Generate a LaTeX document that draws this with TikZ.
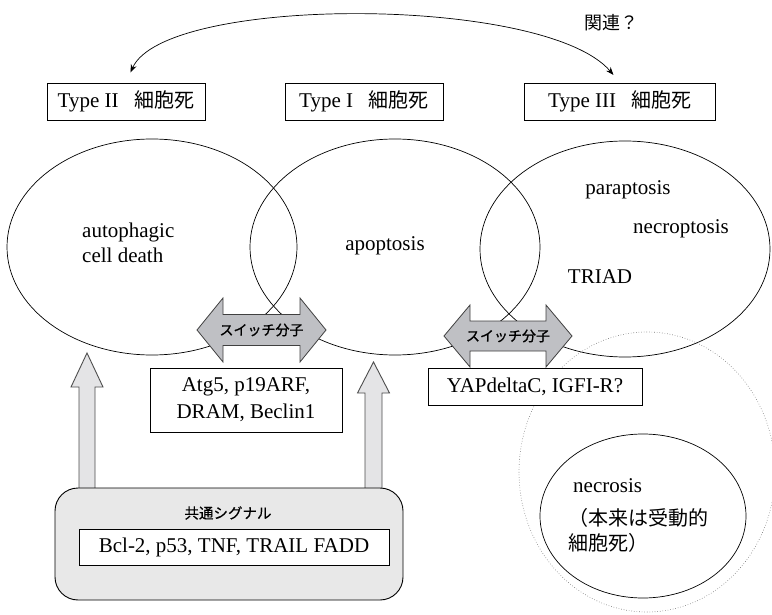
\documentclass[tikz,border=0pt]{standalone}
\usepackage{fontspec}
\setmainfont{Liberation Serif}
\newfontfamily\jp{Noto Sans CJK JP}
\newfontfamily\jpsw[FakeBold=1.2]{Noto Sans CJK JP}
\newfontfamily\jpmed[FakeBold=0.5]{Noto Sans CJK JP}
\usetikzlibrary{shapes.geometric,arrows.meta,calc}
\definecolor{swgray}{HTML}{BFC0C4}
\definecolor{upgray}{HTML}{E4E4E6}
\definecolor{boxgray}{HTML}{E8E8E8}
\begin{document}
\begin{tikzpicture}[x=1pt,y=-1pt,
  tbox/.style={draw, fill=white, line width=0.9pt, minimum height=37pt, inner sep=0pt, font=\fontsize{21}{27}\selectfont},
  cell/.style={draw, ellipse, line width=0.7pt, minimum width=290pt, minimum height=216pt, inner sep=0pt},
  lbl/.style={font=\fontsize{21}{25}\selectfont, inner sep=0pt},
  jplbl/.style={font=\jp\fontsize{20}{25}\selectfont, inner sep=0pt},
  swlbl/.style={font=\jpsw\fontsize{14}{16}\selectfont, inner sep=0pt},
  swshape/.style={draw=black!75, line width=0.8pt, fill=swgray, line join=miter},
  upshape/.style={draw=black!70, line width=0.9pt, fill=upgray},
]
\useasboundingbox (0,0) rectangle (772,615);

% main cell-death ellipses
\node[cell] (e1) at (152,247) {};
\node[cell] (e2) at (395,247) {};
\node[cell] (e3) at (625,249) {};

% necrosis region
\node[draw=black!55, dotted, ellipse, line width=0.6pt, minimum width=256pt, minimum height=280pt, inner sep=0pt] (dz) at (647,472) {};
\node[draw, ellipse, line width=0.7pt, minimum width=206pt, minimum height=164pt, inner sep=0pt] (nc) at (643,516) {};
\node[lbl, anchor=west] (nct) at (573,486) {necrosis};
\node[jplbl, anchor=west] (ncj1) at (568,518) {（本来は受動的};
\node[jplbl, anchor=west] (ncj2) at (568,543) {細胞死）};

% labels inside ellipses
\node[lbl, align=left, anchor=west] (ta) at (82,243) {autophagic\\cell death};
\node[lbl] (ap) at (385,246) {apoptosis};
\node[lbl] (pa) at (628,190) {paraptosis};
\node[lbl] (nr) at (681,229) {necroptosis};
\node[lbl] (tr) at (600,277) {TRIAD};

% type boxes
\node[tbox, minimum width=158pt] (t2) at (126,101.5) {Type II\hspace{0.75em}{\jp\fontsize{20}{24}\selectfont 細胞死}};
\node[tbox, minimum width=158pt] (t1) at (364,101.5) {Type I\hspace{0.75em}{\jp\fontsize{20}{24}\selectfont 細胞死}};
\node[tbox, minimum width=191pt] (t3) at (620,101.5) {Type III\hspace{0.75em}{\jp\fontsize{20}{24}\selectfont 細胞死}};

% relation arrow
\draw[{Stealth[length=8pt,width=6pt]}-{Stealth[length=8pt,width=6pt]}, line width=0.7pt, shorten <=11pt, shorten >=10pt]
  (t2.north) .. controls (165,-5) and (545,-5) .. (t3.north);
\node[font=\jp\fontsize{18}{20}\selectfont, inner sep=0pt] (rel) at (611,23) {関連？};

% upward arrows
\coordinate (u1) at (87,495);
\draw[upshape] ($(u1)+(-8,0)$) -- ++(0,-108) -- ++(-8,0) -- ++(16,-34) -- ++(16,34) -- ++(-8,0) -- ++(0,108);
\coordinate (u2) at (373.5,495);
\draw[upshape] ($(u2)+(-8.5,0)$) -- ++(0,-102) -- ++(-7.5,0) -- ++(16,-31) -- ++(16,31) -- ++(-7.5,0) -- ++(0,102);

% common signal box
\node[draw, line width=0.9pt, rounded corners=23pt, fill=boxgray, minimum width=348pt, minimum height=112pt, inner sep=0pt] (sig) at (229,544) {};
\node[font=\jpmed\fontsize{14.5}{16}\selectfont, inner sep=0pt] (sigl) at (228,513) {共通シグナル};
\node[tbox, minimum width=310pt, minimum height=36pt] (sigt) at (234,547) {Bcl-2, p53, TNF, TRAIL FADD};

% switch molecule double arrows
\coordinate (s1) at (261.5,330);
\draw[swshape] ($(s1)+(-64.5,0)$) -- ++(26,-32) -- ++(0,16.5) -- ++(77,0) -- ++(0,-16.5) -- ++(26,32) -- ++(-26,32) -- ++(0,-16.5) -- ++(-77,0) -- ++(0,16.5) -- cycle;
\node[swlbl] (sl1) at (s1) {スイッチ分子};
\coordinate (s2) at (508,336);
\draw[swshape] ($(s2)+(-64,0)$) -- ++(26,-31) -- ++(0,16) -- ++(76,0) -- ++(0,-16) -- ++(26,31) -- ++(-26,31) -- ++(0,-16) -- ++(-76,0) -- ++(0,16) -- cycle;
\node[swlbl] (sl2) at (s2) {スイッチ分子};

% switch molecule boxes
\node[tbox, minimum width=192pt, minimum height=64pt, align=center] (m1) at (246,400) {Atg5, p19ARF,\\DRAM, Beclin1};
\node[tbox, minimum width=214pt] (m2) at (535,387) {YAPdeltaC, IGFI-R?};
\end{tikzpicture}
\end{document}
